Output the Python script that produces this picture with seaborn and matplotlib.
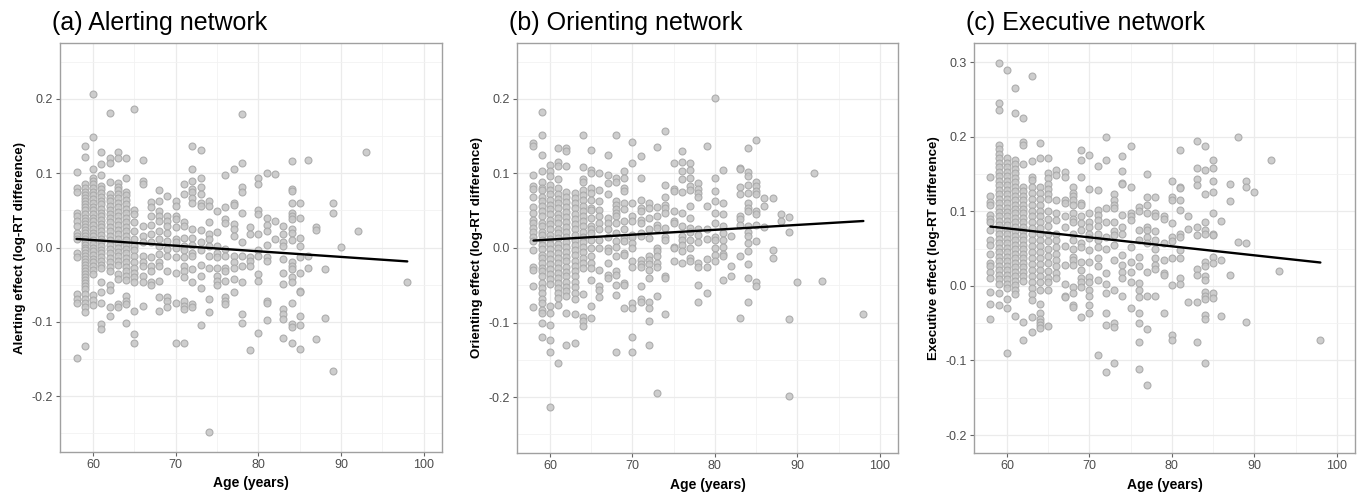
import numpy as np
import pandas as pd
import matplotlib
matplotlib.use("Agg")
import matplotlib.pyplot as plt
import seaborn as sns
from matplotlib.ticker import MultipleLocator, FuncFormatter

# ---------------- data ----------------
alert_ages = [58, 59, 60, 61, 62, 63, 64, 65, 66, 67, 68, 69, 70, 71, 72, 73, 74, 75, 76, 77,
              78, 79, 80, 81, 82, 83, 84, 85, 86, 87, 88, 89, 90, 92, 93, 98]
alert_vals = [
    [0.102, 0.08, 0.074, 0.047, 0.043, 0.036, 0.029, 0.02, 0.016, 0.011, -0.008, -0.013, -0.063, -0.069, -0.074, -0.149],
    [0.136, 0.122, 0.085, 0.08, 0.075, 0.07, 0.066, 0.062, 0.058, 0.054, 0.05, 0.045, 0.04, 0.036, 0.032, 0.028, 0.024,
     0.02, 0.016, 0.012, 0.008, 0.004, 0.0, -0.004, -0.008, -0.012, -0.016, -0.02, -0.024, -0.028, -0.032, -0.036,
     -0.04, -0.044, -0.048, -0.052, -0.056, -0.063, -0.069, -0.074, -0.08, -0.087, -0.132],
    [0.207, 0.149, 0.105, 0.094, 0.09, 0.085, 0.08, 0.075, 0.07, 0.065, 0.06, 0.055, 0.05, 0.045, 0.04, 0.035, 0.03,
     0.025, 0.02, 0.015, 0.01, 0.005, 0.0, -0.005, -0.01, -0.015, -0.02, -0.025, -0.03, -0.035, -0.064, -0.07, -0.077],
    [0.128, 0.112, 0.097, 0.083, 0.078, 0.073, 0.068, 0.063, 0.058, 0.052, 0.047, 0.042, 0.037, 0.032, 0.027, 0.022,
     0.017, 0.012, 0.007, 0.002, -0.003, -0.008, -0.013, -0.018, -0.023, -0.028, -0.047, -0.06, -0.075, -0.103, -0.11],
    [0.181, 0.121, 0.114, 0.088, 0.072, 0.067, 0.062, 0.056, 0.05, 0.045, 0.04, 0.034, 0.028, 0.022, 0.016, 0.01,
     0.004, -0.002, -0.008, -0.014, -0.02, -0.026, -0.032, -0.051, -0.057, -0.08, -0.092],
    [0.128, 0.121, 0.087, 0.082, 0.077, 0.072, 0.066, 0.06, 0.054, 0.048, 0.042, 0.036, 0.03, 0.024, 0.018, 0.012,
     0.006, 0.0, -0.006, -0.012, -0.018, -0.024, -0.036, -0.043, -0.076, -0.08],
    [0.121, 0.094, 0.075, 0.07, 0.064, 0.058, 0.052, 0.046, 0.04, 0.034, 0.028, 0.022, 0.016, 0.01, 0.004, -0.002,
     -0.008, -0.014, -0.02, -0.026, -0.032, -0.038, -0.044, -0.065, -0.072, -0.076, -0.101],
    [0.186, 0.051, 0.045, 0.034, 0.022, 0.011, 0.002, -0.004, -0.011, -0.02, -0.027, -0.034, -0.04, -0.047, -0.085, -0.116, -0.129],
    [0.117, 0.089, 0.085, 0.029, 0.015, 0.007, -0.011, -0.02, -0.025, -0.038, -0.047, -0.078],
    [0.061, 0.054, 0.043, 0.03, 0.018, 0.007, -0.013, -0.025, -0.031, -0.047, -0.051],
    [0.077, 0.062, 0.049, 0.043, 0.036, 0.022, 0.011, 0.002, -0.009, -0.02, -0.025, -0.045, -0.066, -0.086],
    [0.069, 0.043, 0.036, 0.029, 0.02, 0.009, -0.002, -0.011, -0.031, -0.066, -0.072, -0.08],
    [0.062, 0.056, 0.043, 0.038, 0.027, 0.011, 0.007, 0.0, -0.013, -0.034, -0.074, -0.129],
    [0.085, 0.072, 0.034, 0.029, 0.013, 0.002, -0.004, -0.013, -0.025, -0.031, -0.039, -0.072, -0.078, -0.083, -0.129],
    [0.136, 0.105, 0.089, 0.078, 0.074, 0.067, 0.06, 0.025, 0.013, 0.004, -0.007, -0.011, -0.029, -0.047, -0.076, -0.08],
    [0.131, 0.093, 0.081, 0.072, 0.06, 0.056, 0.024, 0.007, -0.004, -0.023, -0.038, -0.055, -0.104],
    [0.063, 0.056, 0.034, 0.018, 0.011, 0.002, -0.011, -0.028, -0.069, -0.087, -0.248],
    [0.049, 0.021, 0.002, -0.007, -0.013, -0.027, -0.038, -0.045, -0.051],
    [0.098, 0.054, 0.038, 0.033, -0.002, -0.011, -0.027, -0.031, -0.045, -0.067, -0.072, -0.076],
    [0.105, 0.06, 0.057, 0.031, 0.025, 0.015, -0.011, -0.02, -0.027, -0.043, -0.06],
    [0.179, 0.113, 0.082, 0.074, 0.047, 0.007, -0.011, -0.025, -0.047, -0.089, -0.101],
    [0.027, 0.018, -0.013, -0.018, -0.025, -0.138],
    [0.093, 0.085, 0.051, 0.045, 0.018, -0.004, -0.011, -0.036, -0.045, -0.115],
    [0.1, 0.04, 0.03, 0.022, 0.003, -0.013, -0.018, -0.072, -0.074, -0.098],
    [0.099, 0.036, 0.011],
    [0.029, 0.018, 0.007, 0.002, -0.016, -0.034, -0.049, -0.083, -0.089, -0.096, -0.122],
    [0.116, 0.078, 0.076, 0.06, 0.047, 0.043, 0.038, 0.025, 0.02, 0.01, -0.02, -0.025, -0.029, -0.04, -0.047, -0.075,
     -0.103, -0.107, -0.129],
    [0.06, 0.04, 0.013, 0.002, -0.013, -0.034, -0.058, -0.06, -0.092, -0.104, -0.137],
    [0.117, -0.011, -0.027],
    [0.027, 0.024, -0.123],
    [-0.029, -0.095],
    [0.06, 0.047, -0.166],
    [0.001],
    [0.022],
    [0.128],
    [-0.046],
]

orient_ages = [58, 59, 60, 61, 62, 63, 64, 65, 66, 67, 68, 69, 70, 71, 72, 73, 74, 75, 76, 77,
               78, 79, 80, 81, 82, 83, 84, 85, 86, 87, 88, 89, 90, 92, 93, 98]
orient_vals = [
    [0.141, 0.137, 0.098, 0.083, 0.079, 0.069, 0.055, 0.047, 0.038, 0.033, 0.027, 0.022, 0.015, 0.009, -0.003,
     -0.025, -0.03, -0.051, -0.079],
    [0.183, 0.152, 0.125, 0.103, 0.089, 0.081, 0.078, 0.069, 0.063, 0.056, 0.049, 0.043, 0.034, 0.029, 0.022, 0.018,
     0.011, 0.004, -0.002, -0.009, -0.013, -0.02, -0.027, -0.031, -0.038, -0.047, -0.054, -0.06, -0.069, -0.074,
     -0.083, -0.087, -0.101, -0.119],
    [0.112, 0.103, 0.096, 0.085, 0.078, 0.072, 0.065, 0.058, 0.052, 0.045, 0.038, 0.032, 0.025, 0.018, 0.012, 0.005,
     -0.002, -0.008, -0.015, -0.022, -0.028, -0.035, -0.042, -0.048, -0.078, -0.087, -0.103, -0.123, -0.139, -0.213],
    [0.134, 0.115, 0.11, 0.092, 0.08, 0.073, 0.066, 0.06, 0.053, 0.046, 0.04, 0.033, 0.026, 0.02, 0.013, 0.006, 0.0,
     -0.007, -0.014, -0.02, -0.027, -0.034, -0.04, -0.047, -0.054, -0.06, -0.067, -0.076, -0.154],
    [0.134, 0.13, 0.11, 0.075, 0.068, 0.062, 0.055, 0.048, 0.042, 0.035, 0.028, 0.022, 0.015, 0.008, 0.002, -0.005,
     -0.012, -0.018, -0.025, -0.032, -0.038, -0.045, -0.052, -0.058, -0.065, -0.087, -0.13],
    [0.074, 0.067, 0.06, 0.053, 0.046, 0.039, 0.032, 0.025, 0.018, 0.011, 0.004, -0.003, -0.01, -0.017, -0.024,
     -0.031, -0.038, -0.045, -0.052, -0.06, -0.068, -0.089, -0.128],
    [0.152, 0.108, 0.092, 0.088, 0.078, 0.071, 0.064, 0.057, 0.05, 0.043, 0.036, 0.029, 0.022, 0.015, 0.008, 0.001,
     -0.006, -0.013, -0.02, -0.027, -0.062, -0.092, -0.098, -0.105],
    [0.131, 0.105, 0.101, 0.081, 0.074, 0.065, 0.054, 0.051, 0.04, 0.029, 0.026, 0.02, 0.011, 0.0, -0.011, -0.02,
     -0.027, -0.043, -0.078, -0.094],
    [0.101, 0.078, 0.063, 0.051, 0.043, 0.034, 0.025, 0.011, 0.0, -0.029, -0.051, -0.057, -0.066],
    [0.125, 0.098, 0.087, 0.072, 0.04, 0.034, 0.025, 0.015, 0.0, -0.004, -0.02, -0.036, -0.04],
    [0.152, 0.094, 0.088, 0.063, 0.058, 0.052, 0.047, 0.043, 0.033, 0.02, 0.01, 0.002, -0.011, -0.031, -0.036,
     -0.049, -0.063, -0.139],
    [0.103, 0.094, 0.081, 0.076, 0.06, 0.052, 0.036, 0.025, 0.013, 0.01, -0.007, -0.01, -0.047, -0.049, -0.081],
    [0.142, 0.114, 0.06, 0.043, 0.036, 0.018, 0.015, 0.007, 0.0, -0.018, -0.025, -0.074, -0.081, -0.119, -0.139],
    [0.123, 0.094, 0.065, 0.054, 0.049, 0.038, 0.033, 0.02, 0.016, -0.016, -0.022, -0.025, -0.051, -0.069, -0.073],
    [0.06, 0.054, 0.04, 0.025, 0.013, -0.011, -0.016, -0.022, -0.029, -0.04, -0.072, -0.081, -0.098, -0.13],
    [0.135, 0.055, 0.043, 0.031, 0.027, 0.0, -0.004, -0.011, -0.02, -0.025, -0.065, -0.195],
    [0.157, 0.085, 0.069, 0.058, 0.054, 0.047, 0.027, 0.015, 0.011, -0.038, -0.04, -0.089],
    [0.114, 0.079, 0.076, 0.049, 0.036, 0.034, 0.002, 0.0, -0.018],
    [0.13, 0.116, 0.103, 0.092, 0.075, 0.047, 0.029, 0.016, 0.011, 0.004, -0.004, -0.02],
    [0.114, 0.105, 0.094, 0.083, 0.078, 0.056, 0.04, 0.027, 0.022, 0.011, 0.0, -0.013, -0.017],
    [0.087, 0.079, 0.074, 0.069, 0.025, 0.018, 0.008, -0.02, -0.025, -0.049, -0.072],
    [0.137, 0.056, 0.026, 0.012, -0.015, -0.025, -0.06],
    [0.201, 0.094, 0.077, 0.063, 0.047, 0.034, 0.015, 0.011, 0.0, -0.01, -0.018],
    [0.105, 0.06, 0.045, 0.03, 0.02, 0.011, 0.002, -0.008, -0.011, -0.043],
    [0.016, -0.024, -0.038],
    [0.107, 0.106, 0.082, 0.072, 0.043, 0.039, 0.031, -0.011, -0.094],
    [0.134, 0.102, 0.096, 0.085, 0.074, 0.061, 0.054, 0.049, 0.029, 0.022, 0.016, 0.007, -0.004, -0.022, -0.04, -0.072],
    [0.145, 0.088, 0.083, 0.076, 0.072, 0.049, 0.045, 0.031, 0.009, -0.045, -0.051],
    [0.067, 0.056, 0.028],
    [0.067, -0.003, -0.013],
    [0.046, 0.036],
    [0.042, 0.021, -0.095, -0.198],
    [-0.046],
    [0.101],
    [-0.044],
    [-0.089],
]

exec_ages = [58, 59, 60, 61, 62, 63, 64, 65, 66, 67, 68, 69, 70, 71, 72, 73, 74, 75, 76, 77,
             78, 79, 80, 81, 82, 83, 84, 85, 86, 87, 88, 89, 90, 92, 93, 98]
exec_vals = [
    [0.146, 0.12, 0.113, 0.108, 0.095, 0.09, 0.086, 0.075, 0.061, 0.055, 0.043, 0.03, 0.026, 0.019, 0.01, -0.008,
     -0.024, -0.044],
    [0.299, 0.245, 0.236, 0.189, 0.183, 0.177, 0.171, 0.165, 0.159, 0.153, 0.147, 0.141, 0.135, 0.129, 0.123, 0.117,
     0.111, 0.105, 0.099, 0.093, 0.087, 0.081, 0.075, 0.069, 0.063, 0.057, 0.051, 0.045, 0.039, 0.033, 0.027, 0.021,
     0.015, 0.009, 0.003, -0.009, -0.026],
    [0.289, 0.171, 0.165, 0.159, 0.153, 0.147, 0.141, 0.135, 0.129, 0.123, 0.117, 0.111, 0.105, 0.099, 0.093, 0.087,
     0.081, 0.075, 0.069, 0.063, 0.057, 0.051, 0.045, 0.039, 0.033, 0.027, 0.021, 0.015, 0.009, 0.003, -0.003,
     -0.017, -0.029, -0.09],
    [0.265, 0.232, 0.169, 0.163, 0.157, 0.151, 0.145, 0.139, 0.133, 0.127, 0.121, 0.115, 0.109, 0.103, 0.097, 0.091,
     0.085, 0.079, 0.073, 0.067, 0.061, 0.055, 0.049, 0.043, 0.037, 0.031, 0.025, 0.019, 0.013, 0.007, 0.001,
     -0.005, -0.011, -0.04],
    [0.225, 0.193, 0.189, 0.164, 0.133, 0.127, 0.121, 0.115, 0.109, 0.103, 0.097, 0.091, 0.085, 0.079, 0.073, 0.067,
     0.061, 0.055, 0.049, 0.043, 0.037, 0.031, 0.025, 0.019, 0.013, 0.007, -0.048, -0.073],
    [0.281, 0.167, 0.146, 0.142, 0.133, 0.125, 0.117, 0.109, 0.101, 0.093, 0.085, 0.077, 0.069, 0.061, 0.053, 0.045,
     0.037, 0.029, 0.021, 0.013, 0.005, -0.003, -0.011, -0.019, -0.042, -0.062],
    [0.191, 0.171, 0.133, 0.125, 0.117, 0.109, 0.101, 0.093, 0.085, 0.077, 0.069, 0.061, 0.053, 0.045, 0.037, 0.029,
     0.021, 0.013, 0.005, -0.005, -0.024, -0.037, -0.044, -0.048, -0.053, -0.057],
    [0.172, 0.151, 0.144, 0.137, 0.13, 0.123, 0.116, 0.1, 0.09, 0.08, 0.07, 0.06, 0.05, 0.04, 0.03, 0.02, 0.01,
     0.005, -0.005, -0.054],
    [0.155, 0.149, 0.115, 0.097, 0.088, 0.07, 0.061, 0.052, 0.043, 0.034, 0.026, 0.017, 0.01],
    [0.153, 0.146, 0.115, 0.111, 0.093, 0.079, 0.053, 0.028, 0.002, -0.013, -0.015],
    [0.133, 0.124, 0.12, 0.115, 0.108, 0.097, 0.09, 0.086, 0.07, 0.061, 0.05, 0.039, 0.034, 0.028, -0.001, -0.009,
     -0.026, -0.028],
    [0.182, 0.169, 0.146, 0.111, 0.108, 0.093, 0.084, 0.075, 0.057, 0.052, 0.032, 0.021, 0.01, 0.005, -0.001, -0.042],
    [0.176, 0.13, 0.097, 0.085, 0.079, 0.07, 0.064, 0.048, 0.032, 0.012, 0.005, -0.006, -0.013, -0.026, -0.037],
    [0.161, 0.129, 0.102, 0.095, 0.088, 0.08, 0.07, 0.061, 0.052, 0.037, 0.026, 0.008, -0.092],
    [0.199, 0.169, 0.104, 0.085, 0.066, 0.05, 0.017, 0.003, -0.01, -0.037, -0.053, -0.116],
    [0.123, 0.115, 0.108, 0.104, 0.085, 0.073, 0.068, 0.055, 0.034, -0.006, -0.05, -0.055, -0.104],
    [0.174, 0.154, 0.138, 0.137, 0.095, 0.079, 0.07, 0.041, 0.028, 0.019, 0.011, -0.013],
    [0.187, 0.133, 0.097, 0.093, 0.088, 0.052, 0.032, 0.019, 0.005, -0.029],
    [0.106, 0.101, 0.075, 0.061, 0.039, 0.026, 0.004, -0.006, -0.015, -0.037, -0.05, -0.075, -0.111],
    [0.15, 0.119, 0.108, 0.097, 0.079, 0.075, 0.066, 0.057, 0.019, -0.013, -0.058, -0.133],
    [0.119, 0.097, 0.093, 0.073, 0.061, 0.05, 0.037, 0.028, 0.022, -0.013],
    [0.093, 0.089, 0.057, 0.035, 0.017, 0.014, -0.037],
    [0.14, 0.119, 0.115, 0.084, 0.066, 0.06, 0.037, 0.001, -0.066, -0.073],
    [0.182, 0.133, 0.131, 0.115, 0.102, 0.07, 0.066, 0.048, 0.037, 0.01, 0.003],
    [0.093, 0.076, -0.021],
    [0.194, 0.158, 0.143, 0.135, 0.079, 0.068, 0.023, 0.014, -0.021, -0.075],
    [0.187, 0.155, 0.123, 0.086, 0.075, 0.07, 0.032, 0.026, 0.013, 0.008, -0.008, -0.013, -0.017, -0.039, -0.045, -0.104],
    [0.169, 0.158, 0.141, 0.126, 0.098, 0.07, 0.068, 0.039, 0.03, -0.01, -0.016],
    [0.087, 0.035, -0.041],
    [0.136, 0.114, 0.014],
    [0.199, 0.059],
    [0.141, 0.132, 0.057, -0.048],
    [0.126],
    [0.169],
    [0.02],
    [-0.073],
]

# fitted regression lines (end points)
fit_ages = [58, 98]
alert_fit = [0.0115, -0.0187]
orient_fit = [0.0100, 0.0362]
exec_fit = [0.0795, 0.0313]

titles = ["(a) Alerting network", "(b) Orienting network", "(c) Executive network"]
ylabels = ["Alerting effect (log-RT difference)", "Orienting effect (log-RT difference)",
           "Executive effect (log-RT difference)"]
x_label = "Age (years)"

# ---------------- styling ----------------
sns.set_theme(style="white")
plt.rcParams['font.family'] = ['Liberation Sans', 'DejaVu Sans']

W, H = 1365, 493
fig = plt.figure(figsize=(W / 100, H / 100), dpi=100)
fig.patch.set_facecolor("white")

boxes = [(60, 442, 43, 452), (517, 898, 43, 453), (974, 1355, 43, 453)]
ylims = [(-0.275, 0.275), (-0.275, 0.275), (-0.224, 0.3255)]

panels = [(alert_ages, alert_vals, alert_fit),
          (orient_ages, orient_vals, orient_fit),
          (exec_ages, exec_vals, exec_fit)]


def fmt(v, _):
    if abs(v) < 1e-9:
        v = 0.0
    return f"{v:.1f}"


for i, ((ages, vals, fit), (l, r, t, b)) in enumerate(zip(panels, boxes)):
    ax = fig.add_axes([l / W, 1 - b / H, (r - l) / W, (b - t) / H])
    df = pd.DataFrame({"age": [a for a, vs in zip(ages, vals) for _ in vs],
                       "effect": [v for vs in vals for v in vs]})
    sns.scatterplot(data=df, x="age", y="effect", ax=ax, s=25, color="#c8c8c8",
                    edgecolor="#a8a8a8", linewidth=0.8, alpha=0.9, zorder=2, legend=False)
    sns.lineplot(x=fit_ages, y=fit, ax=ax, color="black", linewidth=1.7, zorder=3)

    ax.set_xlim(56, 102.2)
    ax.set_ylim(*ylims[i])
    ax.xaxis.set_major_locator(MultipleLocator(10))
    ax.xaxis.set_minor_locator(MultipleLocator(5))
    ax.yaxis.set_major_locator(MultipleLocator(0.1))
    ax.yaxis.set_minor_locator(MultipleLocator(0.05))
    ax.yaxis.set_major_formatter(FuncFormatter(fmt))
    ax.set_axisbelow(True)
    ax.grid(which="major", color="#ebebeb", linewidth=0.9, zorder=0)
    ax.grid(which="minor", color="#f2f2f2", linewidth=0.6, zorder=0)
    for s in ax.spines.values():
        s.set_color("#a0a0a0")
        s.set_linewidth(1.0)
    ax.tick_params(which="major", length=3, width=0.8, color="#666666",
                   labelcolor="#4d4d4d", labelsize=9, pad=2, bottom=True, left=True)
    ax.tick_params(which="minor", length=0)
    ax.set_xlabel(x_label, fontsize=10, fontweight="bold", color="black", labelpad=4)
    ax.set_ylabel(ylabels[i], fontsize=9.6, fontweight="bold", color="black", labelpad=4)
    fig.text((l - 8) / W, 1 - 30 / H, titles[i], fontsize=18, ha="left", va="baseline",
             color="black")

fig.savefig("out.png", dpi=100, facecolor="white")
